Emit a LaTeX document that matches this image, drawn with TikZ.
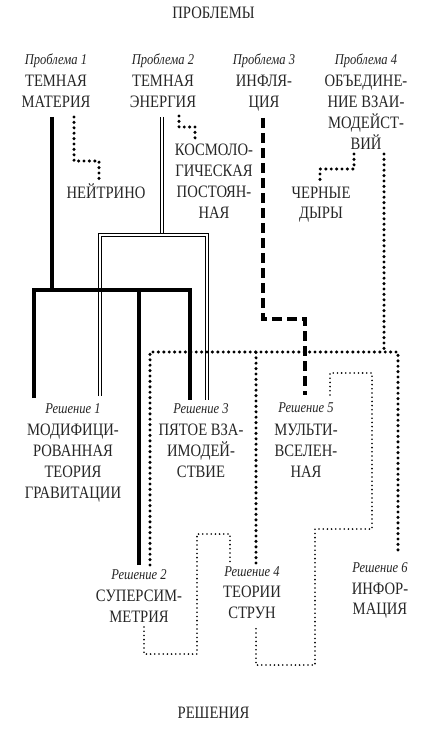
\documentclass[tikz,border=0pt]{standalone}
\usepackage{fontspec}
\setmainfont{Liberation Serif}[FakeStretch=0.84]
\newcommand\itlab[1]{{\fontsize{15}{21}\selectfont\itshape #1}}
\tikzset{
  lbl/.style={font=\fontsize{17.5}{21}\selectfont, align=center, inner sep=0pt, text=black!85},
  thickline/.style={line width=3.6bp, line join=miter},
  dblline/.style={double, double distance=1.6bp, line width=0.8bp},
  bigdots/.style={line width=3.4bp, dash pattern=on 0bp off 5.4bp, line cap=round},
  smalldots/.style={line width=1.8bp, dash pattern=on 0bp off 4.2bp, line cap=round},
  thickdash/.style={line width=3.6bp, dash pattern=on 10bp off 5bp}
}
\begin{document}
\begin{tikzpicture}[x=1bp,y=-1bp]
\useasboundingbox[fill=white] (0,0) rectangle (433,731);

% headings
\node[lbl, anchor=base] (top) at (213.5,19) {ПРОБЛЕМЫ};
\node[lbl, anchor=base] (bottom) at (213.5,718) {РЕШЕНИЯ};

% problems
\node[lbl, anchor=north] (p1) at (56,54) {\itlab{Проблема 1}\\[1bp]ТЕМНАЯ\\МАТЕРИЯ};
\node[lbl, anchor=north] (p2) at (163,54) {\itlab{Проблема 2}\\[1bp]ТЕМНАЯ\\ЭНЕРГИЯ};
\node[lbl, anchor=north] (p3) at (264,54) {\itlab{Проблема 3}\\[1bp]ИНФЛЯ-\\ЦИЯ};
\node[lbl, anchor=north] (p4) at (366,54) {\itlab{Проблема 4}\\[1bp]ОБЪЕДИНЕ-\\НИЕ ВЗАИ-\\МОДЕЙСТ-\\ВИЙ};

% intermediate
\node[lbl, anchor=base] (nt) at (106,198) {НЕЙТРИНО};
\node[lbl, anchor=north] (cc) at (214,144) {КОСМОЛО-\\ГИЧЕСКАЯ\\ПОСТОЯН-\\НАЯ};
\node[lbl, anchor=north] (bh) at (321,186.4) {ЧЕРНЫЕ\\ДЫРЫ};

% solutions
\node[lbl, anchor=north] (s1) at (73,403) {\itlab{Решение 1}\\[1.5bp]МОДИФИЦИ-\\РОВАННАЯ\\ТЕОРИЯ\\ГРАВИТАЦИИ};
\node[lbl, anchor=north] (s3) at (201,403) {\itlab{Решение 3}\\[1.5bp]ПЯТОЕ ВЗА-\\ИМОДЕЙ-\\СТВИЕ};
\node[lbl, anchor=north] (s5) at (306,403) {\itlab{Решение 5}\\[1.5bp]МУЛЬТИ-\\ВСЕЛЕН-\\НАЯ};
\node[lbl, anchor=north] (s2) at (139,569) {\itlab{Решение 2}\\[1.5bp]СУПЕРСИМ-\\МЕТРИЯ};
\node[lbl, anchor=north] (s4) at (252,566) {\itlab{Решение 4}\\[1bp]ТЕОРИИ\\СТРУН};
\node[lbl, anchor=north] (s6) at (380,562) {\itlab{Решение 6}\\[1bp]ИНФОР-\\МАЦИЯ};

% connector end points
\coordinate (p1a) at (52,117);
\coordinate (p1j) at (52,290);
\coordinate (p1n) at (74,117);
\coordinate (ntop) at (99,179);
\coordinate (p2a) at (162,117);
\coordinate (p2j) at (162,235);
\coordinate (p2c) at (179,116);
\coordinate (cctop) at (195,139);
\coordinate (p3a) at (263,118);
\coordinate (p4b) at (354,154);
\coordinate (bhtop) at (320,180);
\coordinate (p4a) at (384,154);
\coordinate (p4j) at (384,352);
\coordinate (s1a) at (34,398);
\coordinate (s1b) at (100,396);
\coordinate (s3a) at (190,400);
\coordinate (s3b) at (207,400);
\coordinate (s2a) at (139,565);
\coordinate (s2b) at (150,565);
\coordinate (s2c) at (144,627);
\coordinate (s4a) at (256,563);
\coordinate (s4b) at (230,564);
\coordinate (s4c) at (256,627);
\coordinate (s5a) at (305,395);
\coordinate (s5b) at (330,395);
\coordinate (s6a) at (398,554);

% dark energy (double line)
\draw[dblline] (p2a) -- (p2j);
\draw[dblline] (s1b) |- (p2j) -| (s3b);

% unification (big dots)
\draw[bigdots] (p4a) -- (p4j);
\draw[bigdots] (s2b) |- (p4j) -| (s6a);
\draw[bigdots] (s4a) -- (s4a |- p4j);
\draw[bigdots] (p1n) |- (ntop |- 0,161) -- (ntop);
\draw[bigdots] (p2c) |- (cctop |- 0,127) -- (cctop);
\draw[bigdots] (p4b) |- (bhtop |- 0,169) -- (bhtop);

% dark matter (thick)
\draw[thickline] (p1a) -- (p1j);
\draw[thickline] (s1a) |- (s3a |- p1j) -- (s3a);
\draw[thickline] (s2a) -- (s2a |- p1j);

% inflation (dashed)
\draw[thickdash] (p3a) |- (s5a |- 0,319) -- (s5a);

% small dots
\draw[smalldots] (s5b) |- (372,373) |- (315,529) |- (s4c |- 0,665) -- (s4c);
\draw[smalldots] (s2c) |- (197,654) |- (s4b |- 0,534) -- (s4b);
\end{tikzpicture}
\end{document}
